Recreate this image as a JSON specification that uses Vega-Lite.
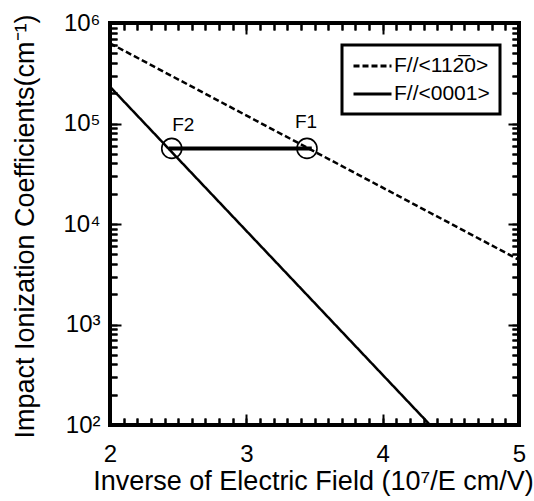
{
  "$schema": "https://vega.github.io/schema/vega-lite/v6.json",
  "width": 409,
  "height": 402,
  "autosize": {"type": "none"},
  "padding": {"left": 110, "top": 23, "right": 15, "bottom": 76},
  "background": "white",
  "config": {
    "font": "Liberation Sans",
    "view": {"stroke": "black", "strokeWidth": 4},
    "legend": {"strokeWidth": 3}
  },
  "datasets": {
    "curves": [
      {"series": "F//<112̅0>", "x": 2, "y": 628000},
      {"series": "F//<112̅0>", "x": 5, "y": 4400},
      {"series": "F//<0001>", "x": 2, "y": 232000},
      {"series": "F//<0001>", "x": 4.348, "y": 100}
    ],
    "segment": [{"x": 2.43, "x2": 3.48, "y": 56500}],
    "points": [{"name": "F2", "x": 2.453, "y": 56500}, {"name": "F1", "x": 3.445, "y": 56500}],
    "labels": [{"label": "F2", "x": 2.538, "y": 96600}, {"label": "F1", "x": 3.438, "y": 103500}]
  },
  "layer": [
    {
      "data": {"name": "curves"},
      "mark": {"type": "line", "color": "black", "strokeWidth": 2.5, "clip": true},
      "encoding": {
        "x": {
          "field": "x", "type": "quantitative",
          "scale": {"domain": [2, 5], "nice": false, "zero": false},
          "axis": {
            "orient": "bottom",
            "values": [2,2.1,2.2,2.3,2.4,2.5,2.6,2.7,2.8,2.9,3,3.1,3.2,3.3,3.4,3.5,3.6,3.7,3.8,3.9,4,4.1,4.2,4.3,4.4,4.5,4.6,4.7,4.8,4.9,5],
            "labelExpr": "abs(datum.value - round(datum.value)) < 0.001 ? format(datum.value, 'd') : ''",
            "labelOverlap": false, "labelFlush": false,
            "labelFontSize": 24, "labelColor": "black", "labelBaseline": "alphabetic", "labelPadding": 43,
            "ticks": true, "tickSize": -7, "tickColor": "black", "tickWidth": 2,
            "grid": true, "gridColor": "black", "gridWidth": 2, "gridOpacity": 1,
            "gridDash": {"condition": {"test": "abs(datum.value - round(datum.value)) < 0.001", "value": [11, 2000]}, "value": [7, 2000]},
            "domain": false, "zindex": 2,
            "title": "Inverse of Electric Field (10⁷/E cm/V)",
            "titleFontSize": 27, "titleFontWeight": "normal", "titleColor": "black",
            "titleX": 203, "titleY": 64, "titleBaseline": "alphabetic", "titleAlign": "center"
          }
        },
        "y": {
          "field": "y", "type": "quantitative",
          "scale": {"type": "log", "domain": [100, 1000000], "nice": false},
          "axis": {
            "orient": "left",
            "values": [100,200,300,400,500,600,700,800,900,1000,2000,3000,4000,5000,6000,7000,8000,9000,10000,20000,30000,40000,50000,60000,70000,80000,90000,100000,200000,300000,400000,500000,600000,700000,800000,900000,1000000],
            "labelExpr": "datum.value == 100 ? '10²' : datum.value == 1000 ? '10³' : datum.value == 10000 ? '10⁴' : datum.value == 100000 ? '10⁵' : datum.value == 1000000 ? '10⁶' : ''",
            "labelOverlap": false, "labelFlush": false,
            "labelFontSize": 24, "labelColor": "black", "labelPadding": 17,
            "ticks": true, "tickSize": -7, "tickColor": "black", "tickWidth": 2,
            "grid": true, "gridColor": "black", "gridWidth": 2, "gridOpacity": 1,
            "gridDash": {"condition": {"test": "abs(log(datum.value)/LN10 - round(log(datum.value)/LN10)) < 0.001", "value": [11, 2000]}, "value": [7, 2000]},
            "domain": false, "zindex": 2,
            "title": "Impact Ionization Coefficients(cm⁻¹)",
            "titleFontSize": 27, "titleFontWeight": "normal", "titleColor": "black",
            "titleX": -77, "titleY": 203, "titleAngle": -90, "titleBaseline": "alphabetic", "titleAlign": "center"
          }
        },
        "strokeDash": {
          "field": "series", "type": "nominal",
          "scale": {"domain": ["F//<112̅0>", "F//<0001>"], "range": [[6, 3], [1, 0]]},
          "legend": {
            "orient": "none", "legendX": 232, "legendY": 22,
            "title": null,
            "strokeColor": "black", "fillColor": "white",
            "padding": 10,
            "symbolType": "M-1,0H3", "symbolSize": 361, "symbolStrokeWidth": 3, "symbolStrokeColor": "black",
            "labelFontSize": 21, "labelColor": "black", "labelOffset": 20, "rowPadding": 7
          }
        }
      }
    },
    {
      "data": {"name": "segment"},
      "mark": {"type": "rule", "color": "black", "strokeWidth": 4},
      "encoding": {
        "x": {
          "field": "x", "type": "quantitative",
          "scale": {"domain": [2, 5], "nice": false, "zero": false},
          "axis": {
            "orient": "top",
            "values": [2,2.1,2.2,2.3,2.4,2.5,2.6,2.7,2.8,2.9,3,3.1,3.2,3.3,3.4,3.5,3.6,3.7,3.8,3.9,4,4.1,4.2,4.3,4.4,4.5,4.6,4.7,4.8,4.9,5],
            "labels": false, "title": null, "domain": false, "zindex": 2,
            "ticks": true, "tickSize": -7, "tickColor": "black", "tickWidth": 2,
            "grid": true, "gridColor": "black", "gridWidth": 2, "gridOpacity": 1,
            "gridDash": {"condition": {"test": "abs(datum.value - round(datum.value)) < 0.001", "value": [11, 2000]}, "value": [7, 2000]}
          }
        },
        "x2": {"field": "x2"},
        "y": {
          "field": "y", "type": "quantitative",
          "scale": {"type": "log", "domain": [100, 1000000], "nice": false},
          "axis": {
            "orient": "right",
            "values": [100,200,300,400,500,600,700,800,900,1000,2000,3000,4000,5000,6000,7000,8000,9000,10000,20000,30000,40000,50000,60000,70000,80000,90000,100000,200000,300000,400000,500000,600000,700000,800000,900000,1000000],
            "labels": false, "title": null, "domain": false, "zindex": 2,
            "ticks": true, "tickSize": -7, "tickColor": "black", "tickWidth": 2,
            "grid": true, "gridColor": "black", "gridWidth": 2, "gridOpacity": 1,
            "gridDash": {"condition": {"test": "abs(log(datum.value)/LN10 - round(log(datum.value)/LN10)) < 0.001", "value": [11, 2000]}, "value": [7, 2000]}
          }
        }
      }
    },
    {
      "data": {"name": "points"},
      "mark": {"type": "point", "shape": "circle", "filled": false, "color": "black", "strokeWidth": 1.6, "size": 400, "opacity": 1},
      "encoding": {
        "x": {"field": "x", "type": "quantitative", "scale": {"domain": [2, 5], "nice": false, "zero": false}, "axis": null},
        "y": {"field": "y", "type": "quantitative", "scale": {"type": "log", "domain": [100, 1000000], "nice": false}, "axis": null}
      }
    },
    {
      "data": {"name": "labels"},
      "mark": {"type": "text", "color": "black", "fontSize": 19, "baseline": "middle", "align": "center"},
      "encoding": {
        "x": {"field": "x", "type": "quantitative", "scale": {"domain": [2, 5], "nice": false, "zero": false}, "axis": null},
        "y": {"field": "y", "type": "quantitative", "scale": {"type": "log", "domain": [100, 1000000], "nice": false}, "axis": null},
        "text": {"field": "label"}
      }
    }
  ]
}
